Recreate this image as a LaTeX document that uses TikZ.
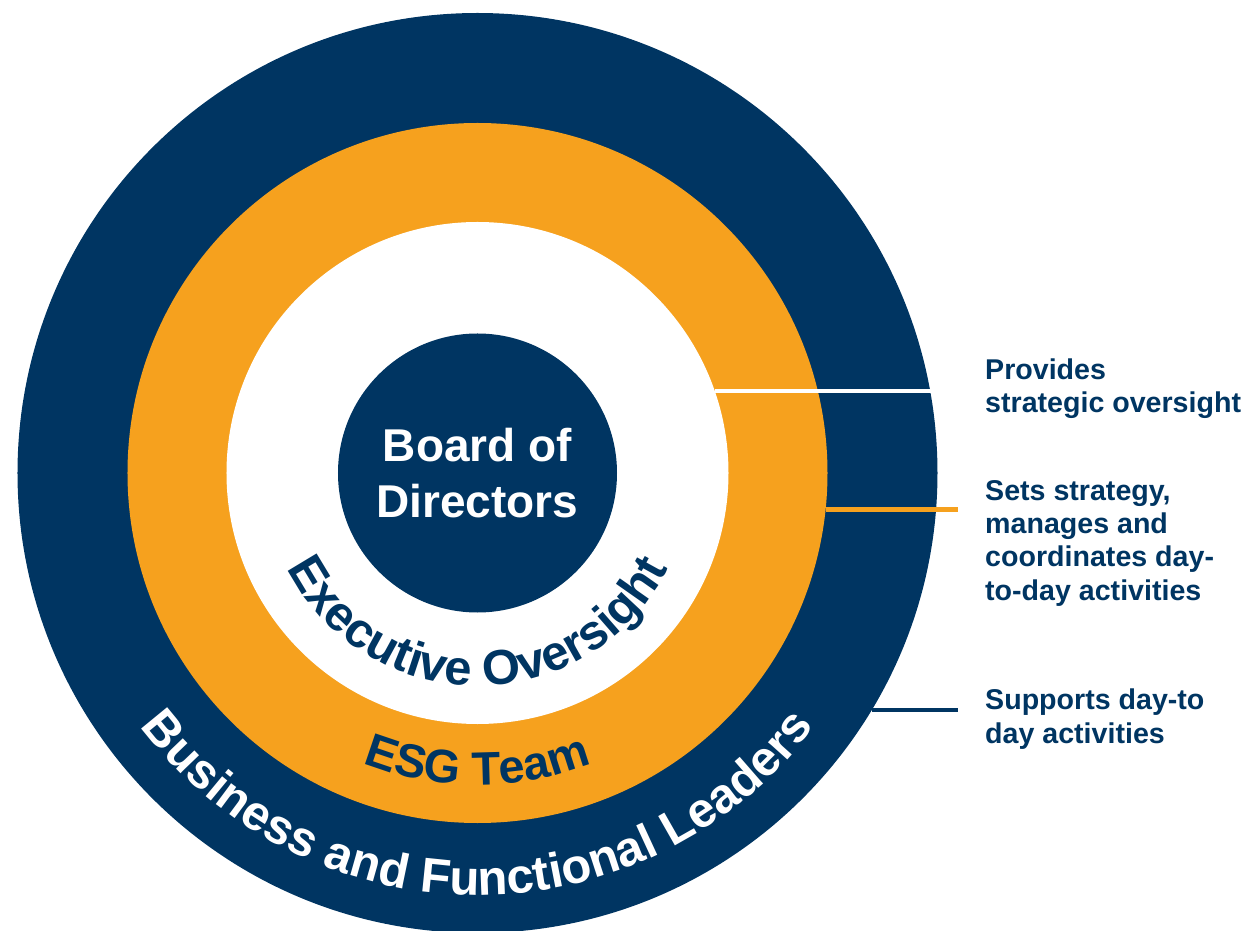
\documentclass[tikz,border=0pt]{standalone}
\usepackage{fontspec}
\setmainfont{Liberation Sans}
\usetikzlibrary{decorations.text}
\definecolor{navy}{RGB}{0,53,98}
\definecolor{esgorange}{RGB}{246,161,30}
\begin{document}
\begin{tikzpicture}[x=1pt,y=1pt,
  ring/.style={circle, inner sep=0pt, outer sep=0pt, draw=none},
  sidetext/.style={anchor=base west, align=left, inner sep=0pt, text=navy,
    font=\bfseries\fontsize{28.6}{33.3}\selectfont},
  leader/.style={line width=#1},
  curvedtext/.style n args={3}{decoration={text along path, text align=center,
    text color=#1, text={|\bfseries\fontsize{#2}{#2}\selectfont|#3}}, decorate}
  ]
\useasboundingbox (-477.5,-458) rectangle (769.5,473);
\clip (-477.5,-458) rectangle (769.5,473);
% rings
\node[ring, fill=navy, minimum size=920pt] (outer) at (0,0) {};
\node[ring, fill=esgorange, minimum size=700pt] (esg) at (0,0) {};
\node[ring, fill=white, minimum size=502pt] (exec) at (0,0) {};
\node[ring, fill=navy, minimum size=279pt, text=white, align=center,
  font=\bfseries\fontsize{46}{56.6}\selectfont] (board) at (0,0) {Board of\\Directors};
% curved labels
\path[curvedtext={navy}{49}{Executive Oversight}]
  (180:213) arc[start angle=180, end angle=360, radius=213];
\path[curvedtext={navy}{47}{ESG Team}]
  (180:312) arc[start angle=180, end angle=360, radius=312];
\path[curvedtext={white}{49}{Business and Functional Leaders}]
  (180:422) arc[start angle=180, end angle=360, radius=422];
% leader lines
\coordinate (lineend) at (480.5,0);
\draw[white, leader=4pt] (exec.19) -- (exec.19 -| outer.10);
\draw[esgorange, leader=5pt] (esg.-6) -- (esg.-6 -| lineend);
\draw[navy, leader=4.5pt] (outer.-31) -- (outer.-31 -| lineend);
% side texts (base = baseline of the last line)
\node[sidetext] (t1) at (507.5,60.5) {Provides\\strategic oversight};
\node[sidetext] (t2) at (507.5,-127) {Sets strategy,\\manages and\\coordinates day-\\to-day activities};
\node[sidetext] (t3) at (507.5,-270) {Supports day-to\\day activities};
\end{tikzpicture}
\end{document}
